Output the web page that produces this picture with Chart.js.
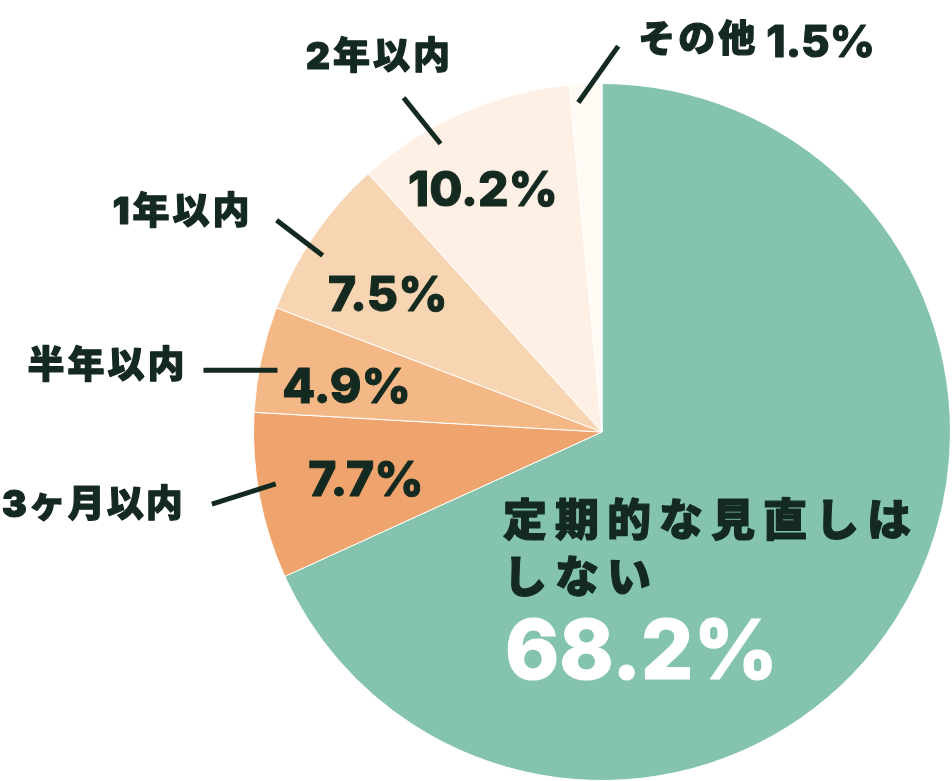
<!DOCTYPE html>
<html>

<head>
    <meta charset="utf-8">
    <title>見直し頻度</title>
    <script src="https://cdn.jsdelivr.net/npm/chart.js@4.4.1/dist/chart.umd.min.js"></script>
    <style>
        html, body {
            margin: 0;
            padding: 0;
            background: #fff;
        }

        .chart-container {
            width: 952px;
            height: 781px;
        }
    </style>
</head>

<body>
    <div class="chart-container">
        <canvas id="pie-chart" width="952" height="781"></canvas>
    </div>

    <script>
        // datos
        const categories = ['定期的な見直しはしない', '3ヶ月以内', '半年以内', '1年以内', '2年以内', 'その他'];
        const shares = [68.2, 7.7, 4.9, 7.5, 10.2, 1.5];
        const sliceColors = ['#84C4AE', '#EEA46C', '#F4B886', '#F8D5B2', '#FEF0E4', '#FFFAF4'];

        const ink = '#14291F';
        const numFont = 'Inter, "Noto Sans CJK JP", sans-serif';
        const jpFont = '"Noto Sans CJK JP", sans-serif';

        // posición de etiquetas por sector (grados / fracción del radio / desplazamientos en px)
        const labelLayout = [
            null,
            { pctR: 0.69, pctShift: -0.4, shift: 1.6, tilt: -7, len: 67, align: 'right', dx: -27, dy: 2, gap: 2 },
            { pctR: 0.745, pctShift: -1.7, shift: -1.3, tilt: -12, len: 74, align: 'right', dx: -16, dy: -3, gap: 3 },
            { pctR: 0.733, pctShift: -1.4, shift: -2.1, tilt: 3, len: 58, align: 'right', dx: -24, dy: -7, gap: 3 },
            { pctR: 0.78, pctShift: -2.2, shift: -5.5, tilt: -15, len: 59, align: 'center', dx: -24, dy: -40, gap: 3 },
            { pctR: 0, pctShift: 0, shift: -1.4, tilt: 38, len: 69, align: 'left', dx: 20, dy: -5, gap: 3 }
        ];

        const rad = d => d * Math.PI / 180;

        // texto con trazo para que se vea más grueso
        function heavyText(ctx, text, x, y, w) {
            ctx.lineWidth = w;
            ctx.lineJoin = 'round';
            ctx.strokeText(text, x, y);
            ctx.fillText(text, x, y);
        }

        const sliceLabels = {
            id: 'sliceLabels',
            afterDatasetsDraw(chart) {
                const ctx = chart.ctx;
                const arcs = chart.getDatasetMeta(0).data;
                ctx.save();
                ctx.fillStyle = ink;
                ctx.strokeStyle = ink;

                arcs.forEach((arc, i) => {
                    const { x, y, startAngle, endAngle, outerRadius: r } =
                        arc.getProps(['x', 'y', 'startAngle', 'endAngle', 'outerRadius'], true);
                    const mid = (startAngle + endAngle) / 2;
                    const pct = shares[i].toFixed(1) + '%';

                    if (i === 0) {
                        // etiqueta grande dentro del sector principal
                        const left = x - 0.278 * r;
                        ctx.textAlign = 'left';
                        ctx.textBaseline = 'middle';
                        ctx.font = '900 44px ' + jpFont;
                        ctx.letterSpacing = '8px';
                        heavyText(ctx, categories[0].slice(0, 8), left - 2, y + 0.25 * r, 1.2);
                        heavyText(ctx, categories[0].slice(8), left - 2, y + 0.415 * r, 1.2);
                        ctx.fillStyle = '#fff';
                        ctx.strokeStyle = '#fff';
                        ctx.letterSpacing = '0px';
                        ctx.font = '800 82px ' + numFont;
                        ctx.textBaseline = 'alphabetic';
                        heavyText(ctx, pct, left, y + 0.71 * r, 1);
                        ctx.fillStyle = ink;
                        ctx.strokeStyle = ink;
                        return;
                    }

                    const L = labelLayout[i];

                    // porcentaje dentro del sector
                    if (L.pctR > 0) {
                        const a = mid + rad(L.pctShift);
                        ctx.font = '800 48px ' + numFont;
                        ctx.letterSpacing = '0px';
                        ctx.textAlign = 'center';
                        ctx.textBaseline = 'alphabetic';
                        heavyText(ctx, pct, x + Math.cos(a) * r * L.pctR, y + Math.sin(a) * r * L.pctR + 18, 1);
                    }

                    // línea guía
                    const s = mid + rad(L.shift);
                    const x0 = x + Math.cos(s) * r * 0.948;
                    const y0 = y + Math.sin(s) * r * 0.948;
                    const d = mid + rad(L.tilt);
                    const x1 = x0 + Math.cos(d) * L.len;
                    const y1 = y0 + Math.sin(d) * L.len;
                    ctx.lineWidth = 5;
                    ctx.lineCap = 'butt';
                    ctx.beginPath();
                    ctx.moveTo(x0, y0);
                    ctx.lineTo(x1, y1);
                    ctx.stroke();

                    // nombre de la categoría
                    ctx.textAlign = L.align;
                    ctx.textBaseline = 'middle';
                    ctx.font = '900 37px ' + numFont;
                    ctx.letterSpacing = L.gap + 'px';
                    const tx = x1 + L.dx;
                    const ty = y1 + L.dy;
                    heavyText(ctx, categories[i], tx, ty, 1.2);
                    if (L.pctR === 0) {
                        // "その他" lleva el porcentaje al lado
                        const w = ctx.measureText(categories[i]).width;
                        ctx.font = '800 44px ' + numFont;
                        ctx.letterSpacing = '0px';
                        ctx.textAlign = 'left';
                        ctx.textBaseline = 'alphabetic';
                        heavyText(ctx, pct, tx + w + 8, ty + 16, 1);
                    }
                });
                ctx.restore();
            }
        };

        const ctx = document.getElementById('pie-chart').getContext('2d');
        new Chart(ctx, {
            type: 'pie',
            data: {
                labels: categories,
                datasets: [{
                    data: shares,
                    backgroundColor: sliceColors,
                    borderColor: '#ffffff',
                    borderWidth: 1
                }]
            },
            options: {
                responsive: false,
                animation: false,
                layout: {
                    padding: { left: 253, right: 1, top: 83, bottom: 0 }
                },
                plugins: {
                    legend: { display: false },
                    tooltip: { enabled: false },
                    title: { display: false }
                }
            },
            plugins: [sliceLabels]
        });
    </script>
</body>

</html>
